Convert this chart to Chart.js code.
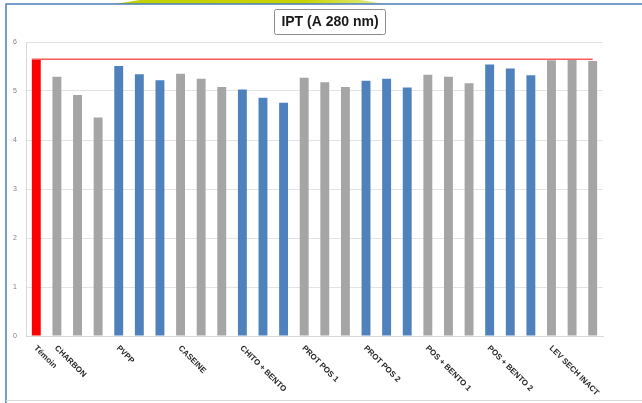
<!DOCTYPE html>
<html>
<head>
<meta charset="utf-8">
<script src="https://cdn.jsdelivr.net/npm/chart.js@4/dist/chart.umd.min.js"></script>
<style>
  html, body { margin: 0; padding: 0; background: #ffffff; }
  #c { display: block; }
</style>
</head>
<body>
<canvas id="c" width="642" height="403"></canvas>
<script>
// Treatments (one label per group of bars)
const groupLabels = ['Témoin', 'CHARBON', 'PVPP', 'CASEINE', 'CHITO + BENTO',
  'PROT POS 1', 'PROT POS 2', 'POS + BENTO 1', 'POS + BENTO 2', 'LEV SECH INACT'];

// IPT readings (absorbance at 280 nm) per treatment
const temoin       = [5.65];
const charbon      = [5.29, 4.92, 4.46];
const pvpp         = [5.51, 5.34, 5.22];
const caseine      = [5.35, 5.25, 5.08];
const chitoBento   = [5.03, 4.86, 4.76];
const protPos1     = [5.27, 5.18, 5.08];
const protPos2     = [5.21, 5.25, 5.07];
const posBento1    = [5.33, 5.29, 5.16];
const posBento2    = [5.54, 5.46, 5.32];
const levSechInact = [5.63, 5.64, 5.61];

const yTicks = [0, 1, 2, 3, 4, 5, 6];

const RED = '#FF0000', GREY = '#A5A5A5', BLUE = '#4F81BD';
const groups = [
  { values: temoin,       color: RED  },
  { values: charbon,      color: GREY },
  { values: pvpp,         color: BLUE },
  { values: caseine,      color: GREY },
  { values: chitoBento,   color: BLUE },
  { values: protPos1,     color: GREY },
  { values: protPos2,     color: BLUE },
  { values: posBento1,    color: GREY },
  { values: posBento2,    color: BLUE },
  { values: levSechInact, color: GREY }
];

// Flatten groups into one bar series; the group name sits on its first bar
const labels = [], values = [], colors = [];
groups.forEach((g, gi) => {
  g.values.forEach((v, i) => {
    labels.push(i === 0 ? groupLabels[gi] : '');
    values.push(v);
    colors.push(g.color);
  });
});

// Frame, blue border and the green swoosh at the top edge
const framePlugin = {
  id: 'frame',
  beforeDraw(chart) {
    const ctx = chart.ctx;
    ctx.save();
    ctx.fillStyle = '#ffffff';
    ctx.fillRect(0, 0, chart.width, chart.height);
    const grad = ctx.createLinearGradient(115, 0, 385, 0);
    grad.addColorStop(0, '#c2d000');
    grad.addColorStop(0.7, '#c8d400');
    grad.addColorStop(1, '#e4eb90');
    ctx.fillStyle = grad;
    ctx.beginPath();
    ctx.moveTo(115, 4);
    ctx.quadraticCurveTo(250, -20, 385, 4);
    ctx.closePath();
    ctx.fill();
    ctx.strokeStyle = '#4a7ebb';
    ctx.lineWidth = 1.5;
    ctx.beginPath();
    ctx.moveTo(6, 403);
    ctx.lineTo(6, 4);
    ctx.lineTo(642, 4);
    ctx.stroke();
    ctx.strokeStyle = '#d9d9d9';
    ctx.lineWidth = 1;
    ctx.beginPath();
    ctx.moveTo(6, 400.5);
    ctx.lineTo(642, 400.5);
    ctx.stroke();
    ctx.restore();
  }
};

// Reference line at the control level
const refLinePlugin = {
  id: 'refLine',
  afterDatasetsDraw(chart) {
    const x = chart.scales.x, y = chart.scales.y;
    const meta = chart.getDatasetMeta(0);
    const first = meta.data[0];
    const yy = y.getPixelForValue(temoin[0]);
    const ctx = chart.ctx;
    ctx.save();
    ctx.strokeStyle = '#ff5a5a';
    ctx.lineWidth = 1.5;
    ctx.beginPath();
    ctx.moveTo(first.x - first.width / 2, yy);
    ctx.lineTo(x.getPixelForValue(values.length - 1), yy);
    ctx.stroke();
    ctx.restore();
  }
};

// Slanted category labels reading downward from each group's first bar
const slantLabelsPlugin = {
  id: 'slantLabels',
  afterDraw(chart) {
    const x = chart.scales.x;
    const ctx = chart.ctx;
    ctx.save();
    ctx.fillStyle = '#262626';
    ctx.font = 'bold 8px "Liberation Sans", Arial, sans-serif';
    ctx.textAlign = 'left';
    ctx.textBaseline = 'middle';
    labels.forEach((lab, i) => {
      if (!lab) return;
      ctx.save();
      ctx.translate(x.getPixelForValue(i) - 1, chart.chartArea.bottom + 11);
      ctx.rotate(Math.PI / 4);
      ctx.fillText(lab, 0, 0);
      ctx.restore();
    });
    ctx.restore();
  }
};

// Boxed chart title
const boxTitlePlugin = {
  id: 'boxTitle',
  afterDraw(chart) {
    const ctx = chart.ctx;
    const text = 'IPT (A 280 nm)';
    ctx.save();
    ctx.font = 'bold 14px "Liberation Sans", Arial, sans-serif';
    const w = ctx.measureText(text).width;
    const cx = 330, cy = 21;
    const bw = w + 14, bh = 25;
    ctx.strokeStyle = '#8c8c8c';
    ctx.lineWidth = 1;
    ctx.beginPath();
    ctx.roundRect(Math.round(cx - bw / 2) + 0.5, Math.round(cy - bh / 2) + 0.5, Math.round(bw), bh, 2);
    ctx.stroke();
    ctx.fillStyle = '#1a1a1a';
    ctx.textAlign = 'center';
    ctx.textBaseline = 'middle';
    ctx.fillText(text, cx, cy + 1);
    ctx.restore();
  }
};

new Chart(document.getElementById('c'), {
  type: 'bar',
  data: {
    labels: labels,
    datasets: [{
      data: values,
      backgroundColor: colors,
      borderWidth: 0,
      barPercentage: 0.9,
      categoryPercentage: 0.48
    }]
  },
  options: {
    responsive: false,
    animation: false,
    devicePixelRatio: 1,
    layout: { padding: { left: 6, right: 39, top: 42, bottom: 67 } },
    plugins: {
      legend: { display: false },
      title: { display: false },
      tooltip: { enabled: false }
    },
    scales: {
      x: {
        grid: { display: false },
        border: { display: true, color: '#d9d9d9' },
        ticks: { display: false },
        afterFit(s) { s.height = 0; }
      },
      y: {
        min: yTicks[0],
        max: yTicks[yTicks.length - 1],
        afterBuildTicks(s) { s.ticks = yTicks.map(v => ({ value: v })); },
        grid: { color: '#e3e3e3', drawTicks: false },
        border: { display: true, color: '#d9d9d9' },
        ticks: {
          color: '#7f7f7f',
          padding: 9,
          font: { size: 7, family: '"Liberation Sans", Arial, sans-serif' }
        },
        afterFit(s) { s.width = 20; }
      }
    }
  },
  plugins: [framePlugin, refLinePlugin, slantLabelsPlugin, boxTitlePlugin]
});
</script>
</body>
</html>
